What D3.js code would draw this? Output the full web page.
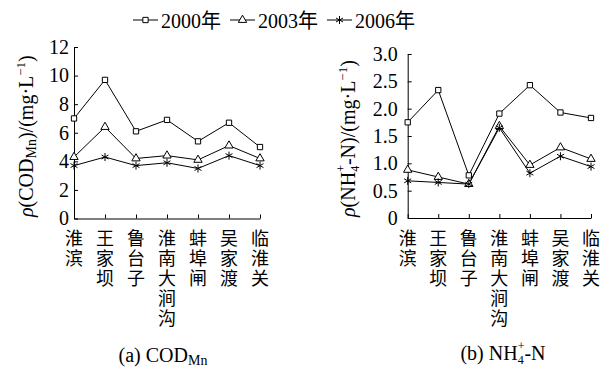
<!DOCTYPE html>
<html>
<head>
<meta charset="utf-8">
<script src="https://cdn.jsdelivr.net/npm/d3@7"></script>
<style>
  body { margin: 0; background: #fff; }
  svg { display: block; }
</style>
</head>
<body>
<script>
// data
const sites = ["淮滨", "王家坝", "鲁台子", "淮南大涧沟", "蚌埠闸", "吴家渡", "临淮关"];
const years = ["2000年", "2003年", "2006年"];

const cod2000 = [7.0, 9.7, 6.1, 6.9, 5.4, 6.7, 5.0];
const cod2003 = [4.3, 6.4, 4.2, 4.4, 4.1, 5.1, 4.2];
const cod2006 = [3.7, 4.3, 3.7, 3.9, 3.5, 4.4, 3.7];

const nh2000 = [1.75, 2.34, 0.78, 1.91, 2.43, 1.93, 1.83];
const nh2003 = [0.88, 0.75, 0.62, 1.68, 0.97, 1.29, 1.08];
const nh2006 = [0.68, 0.65, 0.62, 1.65, 0.82, 1.13, 0.94];

const codTicks = [0, 2, 4, 6, 8, 10, 12];
const nhTicks = [0, 0.5, 1.0, 1.5, 2.0, 2.5, 3.0];

const W = 609, H = 370;
const serif = "'Liberation Serif', 'Times New Roman', serif";
const cjk = "'Noto Sans CJK SC', sans-serif";

const svg = d3.select("body").append("svg")
  .attr("width", W).attr("height", H);

const markers = [
  { type: d3.symbolSquare, size: 28, fill: "#fff" },
  { type: d3.symbolTriangle, size: 30, fill: "#fff" },
  { type: d3.symbolAsterisk, size: 45, fill: "none" }
];

function drawMarker(g, i, x, y) {
  const m = markers[i];
  g.append("path")
    .attr("d", d3.symbol(m.type, m.size)())
    .attr("transform", `translate(${x},${y})`)
    .attr("fill", m.fill)
    .attr("stroke", "#000")
    .attr("stroke-width", 1);
}

// NH4+ with stacked sub/sup
function nh4(t) {
  t.append("tspan").attr("font-size", 12).attr("dy", 4).text("4");
  t.append("tspan").attr("font-size", 12).attr("dx", -6).attr("dy", -14).text("+");
}

// legend
const leg = svg.append("g");
years.forEach((yr, i) => {
  const x0 = 133 + i * 97;
  leg.append("line")
    .attr("x1", x0).attr("x2", x0 + 25)
    .attr("y1", 20).attr("y2", 20)
    .attr("stroke", "#000");
  drawMarker(leg, i, x0 + 12.5, 20);
  leg.append("text")
    .attr("x", x0 + 28).attr("y", 27.5)
    .attr("font-family", serif + ", " + cjk)
    .attr("font-size", 20)
    .text(yr);
});

function panel(opts) {
  const { left, right, top, bottom, domain, ticks, fmt, series, title, subX, subY, sub, titleX } = opts;
  const x = d3.scalePoint().domain(sites).range([left, right]).padding(0);
  const y = d3.scaleLinear().domain(domain).range([bottom, top]);
  const g = svg.append("g");

  // y axis
  g.append("g")
    .attr("transform", `translate(${left},0)`)
    .call(d3.axisLeft(y).tickValues(ticks).tickSize(-4).tickSizeOuter(0).tickPadding(opts.pad).tickFormat(fmt))
    .call(a => a.selectAll("text").attr("font-family", serif).attr("font-size", 20).attr("fill", "#000"))
    .call(a => a.selectAll("line,path").attr("stroke", "#000"));

  // x axis
  g.append("g")
    .attr("transform", `translate(0,${bottom})`)
    .call(d3.axisBottom(x).tickSize(-4).tickSizeOuter(0).tickFormat(""))
    .call(a => a.selectAll("line,path").attr("stroke", "#000"));

  // vertical category labels
  g.selectAll("text.site")
    .data(sites)
    .join("text")
      .attr("class", "site")
      .attr("x", d => x(d))
      .attr("y", 229)
      .attr("font-family", cjk)
      .attr("font-size", 18)
      .attr("letter-spacing", 2)
      .attr("fill", "#000")
      .style("writing-mode", "vertical-rl")
      .style("text-orientation", "upright")
      .text(d => d);

  // lines + markers
  const line = d3.line().x((d, i) => x(sites[i])).y(d => y(d));
  series.forEach((vals, si) => {
    g.append("path")
      .attr("d", line(vals))
      .attr("fill", "none")
      .attr("stroke", "#000")
      .attr("stroke-width", 1);
  });
  series.forEach((vals, si) => {
    vals.forEach((v, i) => drawMarker(g, si, x(sites[i]), y(v)));
  });

  // y title
  const tt = g.append("text")
    .attr("transform", `translate(${titleX},217) rotate(-90)`)
    .attr("font-family", serif)
    .attr("font-size", 20)
    .attr("fill", "#000");
  title(tt);

  // subtitle
  const st = g.append("text")
    .attr("x", subX).attr("y", subY)
    .attr("text-anchor", "middle")
    .attr("font-family", serif)
    .attr("font-size", 20)
    .attr("fill", "#000");
  sub(st);
}

panel({
  left: 74, right: 260, top: 47, bottom: 218.5,
  domain: [0, 12], ticks: codTicks, pad: 5,
  fmt: d3.format("d"),
  series: [cod2000, cod2003, cod2006],
  titleX: 33,
  title: t => {
    t.append("tspan").attr("font-style", "italic").text("ρ");
    t.append("tspan").text("(COD");
    t.append("tspan").attr("font-size", 14).attr("dy", 3).text("Mn");
    t.append("tspan").attr("dy", -3).text(")/(mg·L");
    t.append("tspan").attr("font-size", 13).attr("dy", -8).text("−1");
    t.append("tspan").attr("dy", 8).text(")");
  },
  subX: 163, subY: 362,
  sub: t => {
    t.append("tspan").text("(a) COD");
    t.append("tspan").attr("font-size", 14).attr("dy", 3).text("Mn");
  }
});

panel({
  left: 407.7, right: 591, top: 54, bottom: 218,
  domain: [0, 3], ticks: nhTicks, pad: 10,
  fmt: d => d === 0 ? "0" : d3.format(".1f")(d),
  series: [nh2000, nh2003, nh2006],
  titleX: 355,
  title: t => {
    t.append("tspan").attr("font-style", "italic").text("ρ");
    t.append("tspan").text("(NH");
    nh4(t);
    t.append("tspan").attr("dy", 10).text("-N)/(mg·L");
    t.append("tspan").attr("font-size", 13).attr("dy", -8).text("−1");
    t.append("tspan").attr("dy", 8).text(")");
  },
  subX: 503, subY: 360,
  sub: t => {
    t.append("tspan").text("(b) NH");
    nh4(t);
    t.append("tspan").attr("dy", 10).text("-N");
  }
});
</script>
</body>
</html>
